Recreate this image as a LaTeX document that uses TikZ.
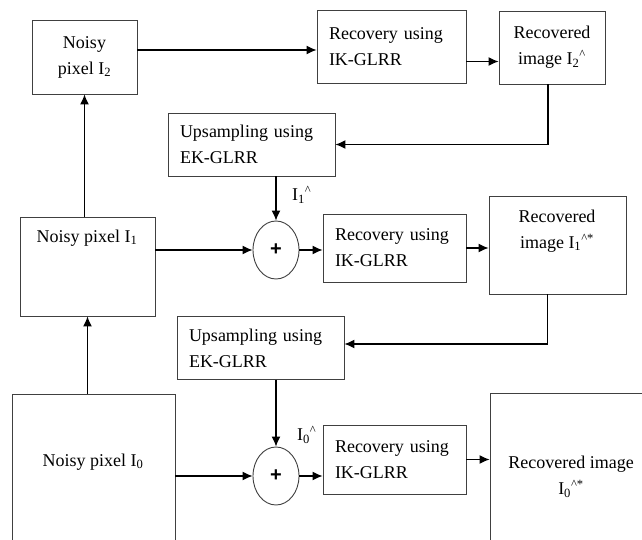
\documentclass[tikz,border=0pt]{standalone}
\usepackage{fontspec}
\setmainfont{Liberation Serif}
\newfontfamily\plusfont{Liberation Sans}
\usetikzlibrary{arrows.meta,shapes.geometric}

\tikzstyle{block}=[draw=black!75,line width=0.9pt,inner sep=0pt,font=\fontsize{18}{26}\selectfont]
\tikzstyle{left block}=[block,align=left,inner xsep=12pt]
\tikzstyle{sum}=[ellipse,draw=black!75,line width=0.9pt,minimum width=46,minimum height=58,inner sep=0pt,font=\plusfont\fontsize{20}{20}\selectfont\bfseries]
\tikzstyle{txt}=[font=\fontsize{18}{26}\selectfont,inner sep=0pt,align=center]
\tikzstyle{edge}=[draw,line width=1.2pt,-{Latex[length=10pt,width=9pt]}]

\newcommand{\est}[1]{I\textsubscript{#1}\textsuperscript{\textasciicircum}}
\newcommand{\eststar}[1]{I\textsubscript{#1}\textsuperscript{\textasciicircum*}}

\begin{document}
\begin{tikzpicture}[x=1pt,y=-1pt]
  \clip (0,0) rectangle (642,540);
  % First the noisy pixel blocks on the left
  \node[block,minimum width=105,minimum height=74,align=center] (n2) at (84.5,57) {Noisy\\pixel I\textsubscript{2}};
  \node[block,minimum width=135,minimum height=99] (n1) at (87.5,266.5) {};
  \node[txt] (n1t) at (87,238) {Noisy pixel I\textsubscript{1}};
  \node[block,minimum width=163,minimum height=166] (n0) at (93.5,477) {};
  \node[txt] (n0t) at (93,462) {Noisy pixel I\textsubscript{0}};

  % recovery and upsampling blocks
  \foreach \pos/\name/\w/\h in {{(391.5,46.5)/rec2/149/73},
    {(394.5,248)/rec1/143/68}, {(394.5,459.5)/rec0/143/69}}
  \node[left block,minimum width=\w,minimum height=\h,text width=\w-24] (\name) at \pos {Recovery using\\IK-GLRR};
  \foreach \pos/\name in {{(251.5,144.5)/up1}, {(260.5,348)/up0}}
  \node[left block,minimum width=167,minimum height=63,text width=143] (\name) at \pos {Upsampling using\\EK-GLRR};

  % adders
  \node[sum] (sum1) at (276,250) {+};
  \node[sum] (sum0) at (276,476) {+};

  % recovered images on the right
  \node[block,minimum width=106,minimum height=73,align=center] (out2) at (552,47.5) {Recovered\\image \est{2}};
  \node[block,minimum width=137,minimum height=98] (out1) at (557.5,245) {};
  \node[txt] (out1t) at (557,231) {Recovered\\image \eststar{1}};
  \node[block,minimum width=170,minimum height=167] (out0) at (575,476.5) {};
  \node[txt] (out0t) at (571,477) {Recovered image\\\eststar{0}};

  % estimate labels
  \node[txt,anchor=west] (l1) at (292,195) {\est{1}};
  \node[txt,anchor=west] (l0) at (297,435) {\est{0}};

  % Connect the blocks
  \foreach \source/\dest in {n0/n1, n1/n2}
  \path[edge] (\source.north -| \dest.south) -- (\dest.south);
  \foreach \source/\s/\dest in {n1/sum1/rec1, n0/sum0/rec0}{
    \path[edge] (\source.east |- \s.west) -- (\s.west);
    \path[edge] (\s.east) -- (\s.east -| \dest.west);
  }
  \foreach \source/\dest in {up1/sum1, up0/sum0}
  \path[edge] (\source.south -| \dest.north) -- (\dest.north);
  \path[edge] ([yshift=7pt]n2.east) -- ([yshift=7pt]n2.east -| rec2.west);
  \path[edge] ([yshift=-15pt]rec2.east) -- ([yshift=-15pt]rec2.east -| out2.west);
  \path[edge] (rec1.east) -- (rec1.east -| out1.west);
  \path[edge] (rec0.east) -- (rec0.east -| out0.west);
  % feedback from the recovered images
  \path[edge] ([xshift=-4pt]out2.south) |- (up1.east);
  \path[edge] ([xshift=-10pt]out1.south) |- ([yshift=4pt]up0.east);
\end{tikzpicture}
\end{document}
